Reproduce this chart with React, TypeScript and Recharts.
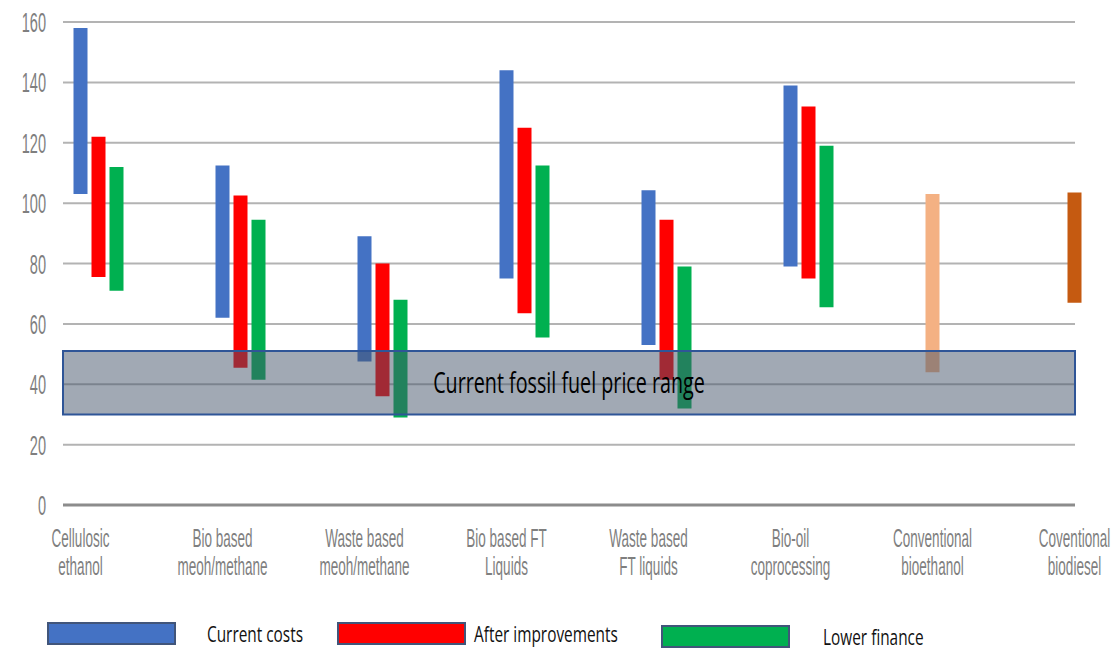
import React from 'react';
import { BarChart, Bar, XAxis, YAxis, CartesianGrid, ReferenceArea, Cell } from 'recharts';

// categories and ranges (low / high ends of each bar)
const categories = [
  'Cellulosic\nethanol',
  'Bio based\nmeoh/methane',
  'Waste based\nmeoh/methane',
  'Bio based FT\nLiquids',
  'Waste based\nFT liquids',
  'Bio-oil\ncoprocessing',
  'Conventional\nbioethanol',
  'Coventional\nbiodiesel',
];

const currentLow = [103, 62, 47.5, 75, 53, 79];
const currentHigh = [158, 112.5, 89, 144, 104.3, 139];
const improvedLow = [75.5, 45.5, 36, 63.5, 41.5, 75];
const improvedHigh = [122, 102.5, 80, 125, 94.5, 132];
const financeLow = [71, 41.5, 29, 55.5, 32, 65.5];
const financeHigh = [112, 94.5, 68, 112.5, 79, 119];
const conventionalLow = [44, 67];
const conventionalHigh = [103, 103.5];

const fossilRange = [30, 51];
const yTicks = [0, 20, 40, 60, 80, 100, 120, 140, 160];

const seriesNames = ['Current costs', 'After improvements', 'Lower finance'];
const seriesColors = ['#4472c4', '#ff0000', '#00b050'];
const conventionalColors = ['#f4b183', '#c55a11'];

const n = currentLow.length;
const last = categories.length - 1;
const data = categories.map((name, i) => ({
  name,
  current: i < n ? [currentLow[i], currentHigh[i]] : [conventionalLow[i - n], conventionalHigh[i - n]],
  improved: i < n ? [improvedLow[i], improvedHigh[i]] : null,
  finance: i < n ? [financeLow[i], financeHigh[i]] : null,
}));

const AXIS_FONT = "'Liberation Sans', Arial, sans-serif";
const LABEL_FONT = "'Open Sans', 'Noto Sans', sans-serif";

const CategoryTick = (props: any) => {
  const { x, y, payload } = props;
  const lines = String(payload.value).split('\n');
  return (
    <g transform={`translate(${x - 18},${y})`}>
      <text transform="scale(0.52,1)" textAnchor="middle" fill="#7f7f7f" fontSize={26} fontFamily={AXIS_FONT}>
        {lines.map((l, i) => (
          <tspan key={i} x={0} y={42 + i * 28}>{l}</tspan>
        ))}
      </text>
    </g>
  );
};

const ValueTick = (props: any) => {
  const { x, y, payload } = props;
  return (
    <g transform={`translate(${x},${y})`}>
      <text transform="scale(0.52,1)" textAnchor="end" dy="0.36em" fill="#7f7f7f" fontSize={28} fontFamily={AXIS_FONT}>
        {payload.value}
      </text>
    </g>
  );
};

const FossilLabel = (props: any) => {
  const { viewBox } = props;
  const cx = viewBox.x + viewBox.width / 2;
  const cy = viewBox.y + viewBox.height / 2;
  return (
    <g transform={`translate(${cx},${cy})`}>
      <text transform="scale(0.68,1)" textAnchor="middle" dy="0.36em" fill="#000" fontSize={29} fontFamily={LABEL_FONT}>
        Current fossil fuel price range
      </text>
    </g>
  );
};

// hand-placed legend, like the original's drawn boxes
const legendSlots = [
  { rectX: 48, textX: 207, y: 33 },
  { rectX: 338, textX: 474, y: 33 },
  { rectX: 662, textX: 823, y: 36 },
];

function LegendRow() {
  return (
    <svg width={1117} height={52} style={{ position: 'absolute', left: 0, top: 600 }}>
      {seriesNames.map((name, i) => {
        const s = legendSlots[i];
        return (
          <g key={name}>
            <rect x={s.rectX} y={s.y - 10} width={127} height={21} fill={seriesColors[i]} stroke="#41557a" strokeWidth={2} />
            <g transform={`translate(${s.textX},${s.y + 1})`}>
              <text transform="scale(0.7,1)" dy="0.36em" fill="#111" fontSize={22} fontFamily={LABEL_FONT}>
                {name}
              </text>
            </g>
          </g>
        );
      })}
    </svg>
  );
}

export default function App() {
  return (
    <div style={{ position: 'absolute', left: 0, top: 0, width: 1117, height: 652, background: '#fff' }}>
      <BarChart
        width={1117}
        height={600}
        data={data}
        margin={{ top: 22, right: 42, bottom: 25, left: 8 }}
        barSize={14}
        barGap={4}
      >
        <CartesianGrid vertical={false} stroke="#b3b3b3" strokeWidth={2} />
        <XAxis
          dataKey="name"
          interval={0}
          height={70}
          padding={{ left: -35.5, right: -88.5 }}
          tickLine={false}
          tickSize={0}
          tickMargin={0}
          axisLine={{ stroke: '#8c8c8c', strokeWidth: 3 }}
          tick={<CategoryTick />}
        />
        <XAxis xAxisId="frame" type="number" domain={[0, last]} allowDataOverflow hide />
        <YAxis
          domain={[0, 160]}
          ticks={yTicks}
          interval={0}
          width={55}
          axisLine={false}
          tickLine={false}
          tickSize={0}
          tickMargin={17}
          tick={<ValueTick />}
        />
        <Bar dataKey="current" name={seriesNames[0]} fill={seriesColors[0]} isAnimationActive={false}>
          {data.map((_, i) => (
            <Cell key={i} fill={i < n ? seriesColors[0] : conventionalColors[i - n]} />
          ))}
        </Bar>
        <Bar dataKey="improved" name={seriesNames[1]} fill={seriesColors[1]} isAnimationActive={false} />
        <Bar dataKey="finance" name={seriesNames[2]} fill={seriesColors[2]} isAnimationActive={false} />
        <ReferenceArea
          xAxisId="frame"
          x1={0}
          x2={last}
          y1={fossilRange[0]}
          y2={fossilRange[1]}
          fill="#44546a"
          fillOpacity={0.5}
          stroke="#2f5597"
          strokeWidth={2}
          zIndex={350}
          label={<FossilLabel />}
        />
      </BarChart>
      <LegendRow />
    </div>
  );
}
